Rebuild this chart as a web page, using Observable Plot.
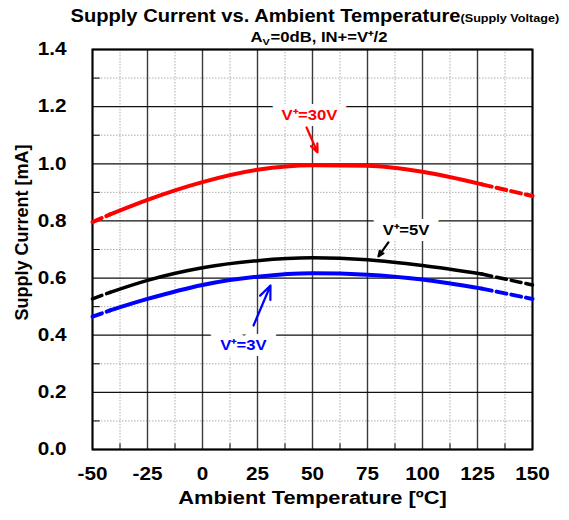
<!DOCTYPE html>
<html>
<head>
<meta charset="utf-8">
<script src="https://cdn.jsdelivr.net/npm/d3@7"></script>
<script src="https://cdn.jsdelivr.net/npm/@observablehq/plot@0.6"></script>
<style>
  html, body { margin: 0; padding: 0; background: #fff; }
</style>
</head>
<body>
<div id="chart"></div>
<script>
// ---- data ----
const temps = [-50, -42, -25, 0, 25, 50, 75, 100, 127, 150];
const i30V  = [0.796, 0.823, 0.874, 0.936, 0.979, 0.995, 0.993, 0.972, 0.928, 0.887];
const i5V   = [0.527, 0.550, 0.592, 0.636, 0.661, 0.671, 0.664, 0.644, 0.614, 0.576];
const i3V   = [0.465, 0.487, 0.527, 0.576, 0.605, 0.617, 0.612, 0.595, 0.563, 0.527];
const solidFrom = -42, solidTo = 127;   // curves are dashed outside this range

const xTicks = [-50, -25, 0, 25, 50, 75, 100, 125, 150];
const xMinor = [-37.5, -12.5, 12.5, 37.5, 62.5, 87.5, 112.5, 137.5];
const yTicks = [0, 0.2, 0.4, 0.6, 0.8, 1.0, 1.2, 1.4];
const yMinor = [0.1, 0.3, 0.5, 0.7, 0.9, 1.1, 1.3];

const seriesNames  = ["V⁺=30V", "V⁺=5V", "V⁺=3V"];
const seriesColors = ["#ff0000", "#000000", "#0000ff"];
const seriesWidths = [4, 3.5, 4];
const seriesValues = [i30V, i5V, i3V];

// label positions and arrows (data coords)
const labelT  = [48.6, 92.5, 18.6];
const labelV  = [1.169, 0.767, 0.364];
const arrowT1 = [47.3, 84.5, 23.2], arrowV1 = [1.127, 0.725, 0.434];
const arrowT2 = [52.3, 80.0, 30.9], arrowV2 = [1.040, 0.676, 0.574];

// ---- build tables ----
const rows = [];
seriesValues.forEach((vals, s) => temps.forEach((t, i) => rows.push({s, t, v: vals[i]})));
const solidRows = rows.filter(d => d.t >= solidFrom && d.t <= solidTo);
const dashRows = rows.filter(d => d.t <= solidFrom || d.t >= solidTo)
  .map(d => ({...d, seg: d.s * 2 + (d.t <= solidFrom ? 0 : 1)}));
const labels = seriesNames.map((name, i) => ({name, i, t: labelT[i], v: labelV[i],
  t1: arrowT1[i], v1: arrowV1[i], t2: arrowT2[i], v2: arrowV2[i]}));

const FONT = "'Liberation Sans', Arial, Helvetica, sans-serif";
const STRETCH = 1.15; // reference text is horizontally wide

const marks = [
  Plot.ruleX(xMinor, {stroke: "#999", strokeWidth: 0.8, strokeDasharray: "1.5,1.5"}),
  Plot.ruleY(yMinor, {stroke: "#999", strokeWidth: 0.8, strokeDasharray: "1.5,1.5"}),
  Plot.ruleX(xMinor, {y1: 0, y2: 0.02, stroke: "#000", strokeWidth: 1}),
  Plot.ruleY(yMinor, {x1: -50, x2: -46.5, stroke: "#000", strokeWidth: 1}),
  Plot.ruleX(xTicks, {stroke: "#3a3a3a", strokeWidth: 1.4}),
  Plot.ruleY(yTicks, {stroke: "#111", strokeWidth: 1.3}),
  Plot.frame({stroke: "#000", strokeWidth: 2}),
];

seriesNames.forEach((name, s) => {
  marks.push(Plot.line(solidRows.filter(d => d.s === s), {
    x: "t", y: "v", stroke: seriesColors[s], strokeWidth: seriesWidths[s], curve: "monotone-x"
  }));
  marks.push(Plot.line(dashRows.filter(d => d.s === s), {
    x: "t", y: "v", z: "seg", stroke: seriesColors[s], strokeWidth: seriesWidths[s],
    strokeDasharray: "10,5", curve: "monotone-x"
  }));
});

labels.forEach(l => {
  marks.push(Plot.text([l], {x: "t", y: "v", text: "name", fill: seriesColors[l.i],
    stroke: "white", strokeWidth: 12, strokeLinejoin: "miter", fontSize: 14.5, fontWeight: "bold"}));
  marks.push(Plot.arrow([l], {x1: "t1", y1: "v1", x2: "t2", y2: "v2", stroke: seriesColors[l.i],
    strokeWidth: 2.2, headLength: 10, headAngle: 45}));
});

marks.push(Plot.axisX(xTicks, {tickSize: 0, tickPadding: 18, fontSize: 18, fontWeight: "bold",
  tickFormat: d => String(d), label: null}));
marks.push(Plot.axisY(yTicks, {tickSize: 0, tickPadding: 26, fontSize: 18, fontWeight: "bold",
  tickFormat: d3.format(".1f"), label: null}));

const mid = {lineAnchor: "middle", fontWeight: "bold"};
marks.push(Plot.text(["Ambient Temperature [ºC]"], {...mid, frameAnchor: "bottom", dy: 48, fontSize: 19}));
marks.push(Plot.text(["Supply Current [mA]"], {...mid, frameAnchor: "left", dx: -70, dy: -17, rotate: -90,
  textAnchor: "middle", fontSize: 18}));
marks.push(Plot.text(["Supply Current vs. Ambient Temperature"], {...mid, frameAnchor: "top-left", dx: 368, dy: -33,
  textAnchor: "end", fontSize: 17.5}));
marks.push(Plot.text(["(Supply Voltage)"], {...mid, frameAnchor: "top-left", dx: 368, dy: -31,
  textAnchor: "start", fontSize: 11}));
marks.push(Plot.text(["A"], {...mid, frameAnchor: "top-left", dx: 158, dy: -12, textAnchor: "start", fontSize: 14.5}));
marks.push(Plot.text(["V"], {...mid, frameAnchor: "top-left", dx: 170, dy: -8, textAnchor: "start", fontSize: 9.5}));
marks.push(Plot.text(["=0dB, IN+=V⁺/2"], {...mid, frameAnchor: "top-left", dx: 178, dy: -12, textAnchor: "start", fontSize: 14.5}));

const chart = Plot.plot({
  width: 569,
  height: 520,
  marginLeft: 92,
  marginRight: 37,
  marginTop: 49,
  marginBottom: 71,
  x: {domain: [-50, 150]},
  y: {domain: [0, 1.4]},
  style: {fontFamily: FONT, color: "#000", background: "#fff", overflow: "visible"},
  marks
});

// widen horizontal texts to match the reference's wide lettering
d3.select(chart).selectAll("text").each(function() {
  const tr = this.getAttribute("transform") || "";
  if (tr.includes("rotate")) return;
  if (tr) this.setAttribute("transform", tr + ` scale(${STRETCH},1)`);
});
document.getElementById("chart").appendChild(chart);
</script>
</body>
</html>
